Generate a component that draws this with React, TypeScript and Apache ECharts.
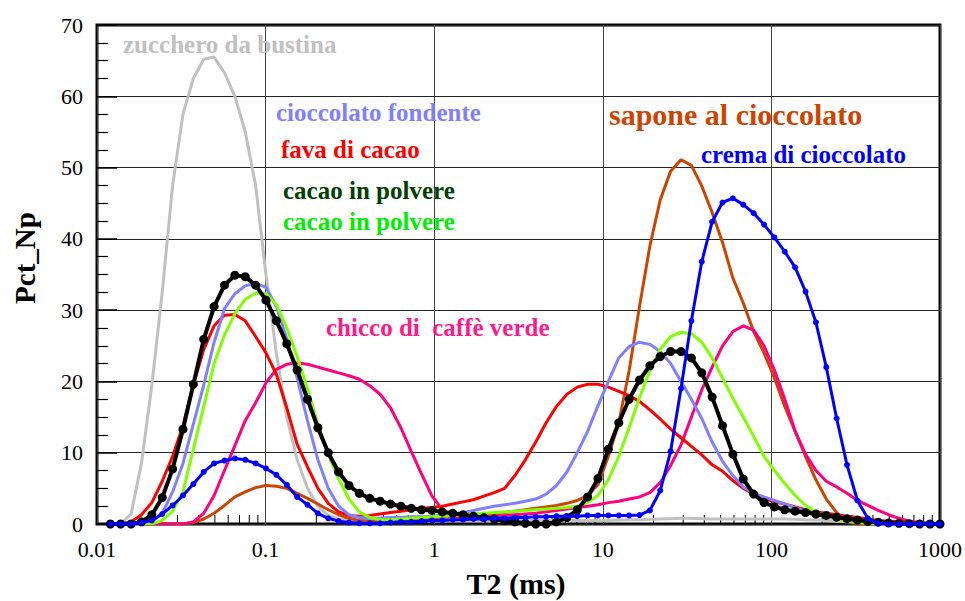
import React, { useEffect, useRef } from "react";
import * as echarts from "echarts";

// T2 sample positions (ms)
const T2 = [
  0.012, 0.01382, 0.01593, 0.01835, 0.02115, 0.02437, 0.02808, 0.03236, 0.03728, 0.04296,
  0.0495, 0.05703, 0.06572, 0.07572, 0.08724, 0.1005, 0.1158, 0.1335, 0.1538, 0.1772,
  0.2042, 0.2352, 0.271, 0.3123, 0.3598, 0.4146, 0.4777, 0.5505, 0.6342, 0.7308,
  0.8421, 0.9703, 1.118, 1.288, 1.484, 1.71, 1.97, 2.27, 2.616, 3.014,
  3.473, 4.002, 4.612, 5.313, 6.124, 7.056, 8.128, 9.367, 10.79, 12.44,
  14.33, 16.51, 19.02, 21.92, 25.26, 29.1, 33.53, 38.64, 44.52, 51.3,
  59.11, 68.09, 78.47, 90.42, 104.2, 120.0, 138.3, 159.4, 183.6, 211.6,
  243.8, 280.9, 323.7, 372.9, 429.8, 495.2, 570.6, 657.5, 757.6, 873.0,
  1000,
];

const zucchero = [
  0, 0, 1.4, 8.5, 19.5, 32.5, 47.5, 57.5, 62.5, 65.2,
  65.5, 63.3, 60.0, 55.0, 47.5, 35.0, 24.0, 15.0, 9.0, 5.0,
  2.5, 1.2, 0.7, 0.5, 0.5, 0.5, 0.5, 0.5, 0.5, 0.5,
  0.5, 0.5, 0.5, 0.5, 0.5, 0.5, 0.5, 0.5, 0.5, 0.5,
  0.5, 0.5, 0.5, 0.5, 0.5, 0.5, 0.5, 0.5, 0.5, 0.55,
  0.6, 0.6, 0.65, 0.7, 0.75, 0.8, 0.8, 0.75, 0.7, 0.7,
  0.7, 0.7, 0.7, 0.7, 0.7, 0.7, 0.65, 0.6, 0.55, 0.5,
  0.4, 0.3, 0.2, 0.1, 0, 0, 0, 0, 0, 0,
  0,
];

const cioccolatoFondente = [
  0, 0, 0, 0, 0.3, 1.5, 4.5, 8.5, 14.0, 19.5,
  25.5, 30.2, 32.3, 33.4, 33.8, 33.2, 30.5, 26.0, 20.5, 14.5,
  9.0, 5.0, 2.5, 1.3, 0.9, 0.8, 0.8, 0.9, 0.9, 1.0,
  1.0, 1.1, 1.25, 1.4, 1.6, 1.9, 2.2, 2.5, 2.7, 2.9,
  3.2, 3.5, 4.2, 5.4, 7.3, 10.0, 13.0, 16.6, 20.0, 23.3,
  24.9, 25.5, 25.2, 24.2, 22.5, 20.0, 17.5, 14.8, 11.5, 8.8,
  6.8, 5.2, 4.3, 3.8, 3.3, 2.8, 2.3, 1.8, 1.4, 1.1,
  0.8, 0.6, 0.4, 0.3, 0.2, 0.1, 0, 0, 0, 0,
  0,
];

const favaDiCacao = [
  0, 0, 0.3, 1.3, 3.0, 6.0, 9.5, 13.8, 19.5, 24.5,
  27.8, 29.3, 29.4, 28.5, 26.3, 24.0, 21.0, 16.3, 11.2, 8.0,
  5.0, 2.9, 1.7, 1.2, 1.1, 1.2, 1.4, 1.6, 1.8, 2.0,
  2.2, 2.3, 2.5, 2.8, 3.1, 3.4, 3.9, 4.4, 5.0, 6.8,
  9.0, 11.5, 14.2, 16.5, 18.2, 19.2, 19.6, 19.6, 19.2, 18.6,
  18.0, 17.2, 16.0, 14.7, 13.3, 12.1, 10.9, 9.7, 8.3, 7.4,
  6.1, 5.0, 4.2, 3.6, 3.1, 2.8, 2.4, 2.0, 1.7, 1.5,
  1.3, 1.1, 0.9, 0.7, 0.5, 0.4, 0.3, 0.2, 0.1, 0.05,
  0,
];

const cacaoPolvereNero = [
  0, 0, 0, 0.3, 1.3, 3.7, 7.7, 13.3, 19.6, 25.9,
  30.5, 33.5, 34.9, 34.7, 33.5, 31.4, 28.5, 25.3, 21.6, 17.5,
  13.5, 10.0, 7.3, 5.4, 4.3, 3.6, 3.2, 2.8, 2.5, 2.2,
  2.0, 1.9, 1.7, 1.5, 1.3, 1.1, 0.9, 0.7, 0.5, 0.3,
  0.1, 0, 0, 0.3, 0.9, 2.0, 3.8, 6.4, 10.5, 14.2,
  17.5, 20.2, 22.2, 23.5, 24.2, 24.2, 23.3, 21.2, 17.8, 13.8,
  9.8, 6.3, 4.2, 3.0, 2.4, 2.0, 1.8, 1.6, 1.4, 1.2,
  0.95, 0.75, 0.55, 0.35, 0.25, 0.15, 0.1, 0.05, 0, 0,
  0,
];

const cacaoPolvereVerde = [
  0, 0, 0, 0, 0, 0.5, 1.8, 4.5, 10.5, 16.5,
  22.5, 26.5, 29.5, 31.5, 32.4, 32.3, 30.8, 27.5, 23.5, 19.0,
  14.0, 9.8, 6.3, 3.5, 1.7, 0.9, 0.6, 0.6, 0.7, 0.8,
  0.9, 1.0, 1.1, 1.2, 1.3, 1.4, 1.5, 1.6, 1.7, 1.8,
  1.9, 2.0, 2.1, 2.2, 2.3, 2.5, 3.0, 4.0, 6.2, 9.5,
  13.5, 17.7, 21.5, 24.5, 26.3, 26.9, 26.7, 25.5, 23.3, 20.5,
  17.6, 15.0, 12.3, 9.5, 7.5, 5.7, 4.0, 2.6, 1.7, 1.1,
  0.7, 0.4, 0.2, 0.1, 0.05, 0, 0, 0, 0, 0,
  0,
];

const caffeVerde = [
  0, 0, 0, 0, 0, 0, 0, 0, 0.3, 1.5,
  4.0, 7.5, 11.0, 14.5, 17.0, 19.8, 21.7, 22.4, 22.6, 22.4,
  22.0, 21.6, 21.2, 20.8, 20.3, 19.4, 18.2, 16.3, 13.5, 10.2,
  7.0, 3.9, 2.0, 1.1, 0.8, 0.9, 1.0, 1.1, 1.2, 1.3,
  1.4, 1.5, 1.7, 1.9, 2.1, 2.3, 2.5, 2.7, 3.0, 3.2,
  3.5, 3.8, 4.4, 5.8, 8.2, 11.1, 15.0, 18.8, 22.0, 25.0,
  27.0, 27.8, 27.2, 25.0, 21.6, 17.5, 13.0, 9.8, 7.5, 6.0,
  5.2, 4.3, 3.3, 2.6, 1.9, 1.3, 0.8, 0.4, 0.2, 0.1,
  0,
];

const sapone = [
  0, 0, 0, 0, 0, 0, 0, 0, 0.2, 0.7,
  1.5, 2.6, 3.8, 4.5, 5.1, 5.4, 5.3, 5.0, 4.3, 3.6,
  2.8, 2.0, 1.3, 0.8, 0.5, 0.4, 0.3, 0.4, 0.5, 0.6,
  0.7, 0.8, 0.9, 1.0, 1.1, 1.2, 1.3, 1.4, 1.6, 1.8,
  2.0, 2.2, 2.4, 2.6, 2.9, 3.3, 4.0, 5.5, 9.5, 14.2,
  21.5, 30.5, 39.0, 45.5, 49.5, 51.1, 50.3, 47.4, 43.7, 39.5,
  34.5, 31.0, 27.0, 24.0, 20.5, 16.5, 13.0, 9.5, 6.2, 3.5,
  1.6, 0.4, 0, 0, 0, 0, 0, 0, 0, 0,
  0,
];

const cremaCioccolato = [
  0, 0, 0, 0.2, 0.5, 1.4, 2.6, 4.0, 5.6, 7.3,
  8.5, 8.9, 9.2, 9.0, 8.5, 7.8, 6.9, 5.5, 3.8, 2.7,
  1.5, 0.8, 0.4, 0.2, 0.1, 0.1, 0.1, 0.2, 0.3, 0.3,
  0.4, 0.5, 0.5, 0.6, 0.6, 0.7, 0.7, 0.8, 0.8, 0.9,
  0.9, 1.0, 1.0, 1.1, 1.1, 1.1, 1.2, 1.2, 1.2, 1.2,
  1.2, 1.25, 1.9, 4.7, 10.2, 19.0, 28.5, 36.8, 42.4, 45.1,
  45.7, 44.8, 43.6, 42.0, 40.2, 38.2, 36.0, 32.6, 28.3, 22.0,
  14.8, 8.3, 3.3, 0.8, 0.1, 0, 0, 0, 0, 0,
  0,
];

const xTickLabels = ["0.01", "0.1", "1", "10", "100", "1000"];
const xMinorTicks = [
  0.02, 0.03, 0.04, 0.05, 0.06, 0.07, 0.08, 0.09,
  0.2, 0.3, 0.4, 0.5, 0.6, 0.7, 0.8, 0.9,
  2, 3, 4, 5, 6, 7, 8, 9,
  20, 30, 40, 50, 60, 70, 80, 90,
  200, 300, 400, 500, 600, 700, 800, 900,
];

const SERIF = "Liberation Serif";

const annotations = [
  { text: "zucchero da bustina", color: "#c0c0c0", x: 123, y: 44, size: 25 },
  { text: "cioccolato fondente", color: "#8080ff", x: 276, y: 112, size: 25 },
  { text: "fava di cacao", color: "#ff0000", x: 281, y: 149, size: 25 },
  { text: "cacao in polvere", color: "#004000", x: 283, y: 190, size: 25 },
  { text: "cacao in polvere", color: "#00ee00", x: 283, y: 221, size: 25 },
  { text: "chicco di  caffè verde", color: "#ff1a8c", x: 326, y: 327, size: 25 },
  { text: "sapone al cioccolato", color: "#cc4400", x: 609, y: 114, size: 30 },
  { text: "crema di cioccolato", color: "#0000ff", x: 701, y: 154, size: 25 },
];

function pairs(ys: number[]) {
  return T2.map((x, i) => [x, ys[i]]);
}

function lineSeries(name: string, ys: number[], color: string, width = 3) {
  return {
    name,
    type: "line",
    data: pairs(ys),
    showSymbol: false,
    symbol: "none",
    lineStyle: { color, width },
    itemStyle: { color },
    z: 3,
  };
}

export default function App() {
  const ref = useRef<HTMLDivElement>(null);

  useEffect(() => {
    document.body.style.margin = "0";
    if (!ref.current) return;
    const chart = echarts.init(ref.current, undefined, { renderer: "svg" });

    const option: any = {
      animation: false,
      backgroundColor: "#ffffff",
      grid: {
        left: 97,
        right: 25,
        top: 25,
        bottom: 77,
        show: true,
        borderColor: "#000",
        borderWidth: 3,
        backgroundColor: "transparent",
      },
      xAxis: {
        type: "log",
        logBase: 10,
        min: 0.01,
        max: 1000,
        axisLine: { show: false },
        axisTick: { show: false },
        splitLine: { show: true, lineStyle: { color: "#444", width: 1 } },
        axisLabel: {
          color: "#000",
          fontFamily: SERIF,
          fontSize: 22,
          margin: 14,
          formatter: (v: number) => {
            const hit = xTickLabels.find(
              (t) => Math.abs(Math.log10(parseFloat(t)) - Math.log10(v)) < 1e-6
            );
            return hit ?? "";
          },
        },
      },
      yAxis: {
        type: "value",
        min: 0,
        max: 70,
        interval: 10,
        axisLine: { show: false },
        axisTick: {
          show: true,
          inside: true,
          length: 20,
          lineStyle: { color: "#000", width: 1.5 },
        },
        minorTick: {
          show: true,
          splitNumber: 4,
          length: 11,
          lineStyle: { color: "#000", width: 1.2 },
        },
        splitLine: { show: true, lineStyle: { color: "#222", width: 1 } },
        axisLabel: {
          color: "#000",
          fontFamily: SERIF,
          fontSize: 22,
          margin: 14,
        },
      },
      graphic: [
        {
          type: "text",
          x: 25,
          y: 258,
          rotation: Math.PI / 2,
          style: {
            text: "Pct_Np",
            fontFamily: SERIF,
            fontSize: 29,
            fontWeight: "bold",
            fill: "#000",
            textAlign: "center",
            textVerticalAlign: "middle",
          },
        },
        {
          type: "text",
          x: 516,
          y: 583,
          style: {
            text: "T2 (ms)",
            fontFamily: SERIF,
            fontSize: 30,
            fontWeight: "bold",
            fill: "#000",
            textAlign: "center",
            textVerticalAlign: "middle",
          },
        },
        ...annotations.map((a) => ({
          type: "text",
          x: a.x,
          y: a.y,
          z: 10,
          style: {
            text: a.text,
            fontFamily: SERIF,
            fontSize: a.size,
            fontWeight: "bold",
            fill: a.color,
            textAlign: "left",
            textVerticalAlign: "middle",
          },
        })),
      ],
      series: [
        {
          type: "custom",
          coordinateSystem: "cartesian2d",
          silent: true,
          z: 2,
          data: xMinorTicks.map((v) => [v, 0]),
          renderItem: (_params: any, api: any) => {
            const p = api.coord([api.value(0), 0]);
            return {
              type: "line",
              shape: { x1: p[0], y1: p[1], x2: p[0], y2: p[1] - 9 },
              style: { stroke: "#000", lineWidth: 1 },
            };
          },
        },
        lineSeries("zucchero da bustina", zucchero, "#c0c0c0"),
        lineSeries("sapone al cioccolato", sapone, "#cc4400"),
        lineSeries("chicco di caffè verde", caffeVerde, "#ff0080"),
        lineSeries("fava di cacao", favaDiCacao, "#ff0000"),
        lineSeries("cioccolato fondente", cioccolatoFondente, "#8080ff"),
        lineSeries("cacao in polvere (verde)", cacaoPolvereVerde, "#80ff00"),
        {
          name: "cacao in polvere",
          type: "line",
          data: pairs(cacaoPolvereNero),
          symbol: "circle",
          symbolSize: 9,
          showSymbol: true,
          lineStyle: { color: "#000", width: 4 },
          itemStyle: { color: "#000" },
          z: 4,
        },
        {
          name: "crema di cioccolato",
          type: "line",
          data: pairs(cremaCioccolato),
          symbol: "circle",
          symbolSize: 6,
          showSymbol: true,
          lineStyle: { color: "#0000ff", width: 3 },
          itemStyle: { color: "#0000ff" },
          z: 5,
        },
      ],
    };

    chart.setOption(option);
    return () => chart.dispose();
  }, []);

  return <div ref={ref} style={{ width: 965, height: 601 }} />;
}
